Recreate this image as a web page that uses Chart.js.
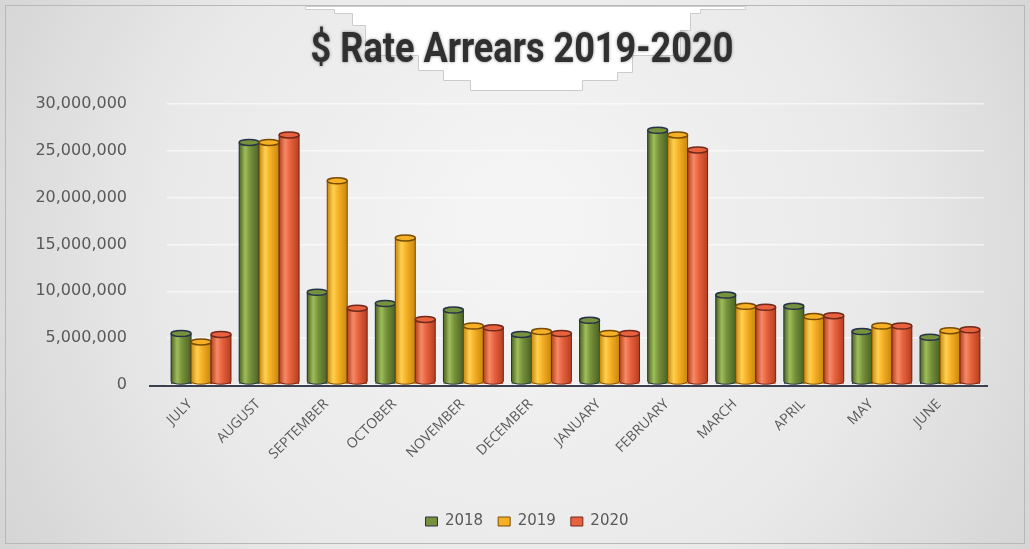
<!DOCTYPE html>
<html>
<head>
<meta charset="utf-8">
<title>$ Rate Arrears 2019-2020</title>
<script src="https://cdn.jsdelivr.net/npm/chart.js@4.4.1/dist/chart.umd.min.js"></script>
<style>
  html, body { margin: 0; padding: 0; background: #ffffff; }
  #wrap { width: 1030px; height: 549px; }
</style>
</head>
<body>
<div id="wrap"><canvas id="arrears"></canvas></div>
<script>
// Monthly rate arrears ($), financial year July..June
const months = ['JULY', 'AUGUST', 'SEPTEMBER', 'OCTOBER', 'NOVEMBER', 'DECEMBER',
    'JANUARY', 'FEBRUARY', 'MARCH', 'APRIL', 'MAY', 'JUNE'];
const years = ['2018', '2019', '2020'];

const arrears2018 = [5500000, 25900000, 9900000, 8700000, 8000000, 5400000,
    6900000, 27200000, 9600000, 8400000, 5700000, 5100000];
const arrears2019 = [4600000, 25900000, 21800000, 15700000, 6300000, 5700000,
    5500000, 26700000, 8400000, 7300000, 6300000, 5800000];
const arrears2020 = [5400000, 26700000, 8200000, 7000000, 6100000, 5500000,
    5500000, 25100000, 8300000, 7400000, 6300000, 5900000];

const yTicks = [0, 5000000, 10000000, 15000000, 20000000, 25000000, 30000000];

// colours per series: base, highlight, shadow, outline
const palette = [
    { base: '#76923c', light: '#a0bd5a', dark: '#4c6222', line: '#26334a' },
    { base: '#f6b026', light: '#ffd050', dark: '#c8870c', line: '#7a4c06' },
    { base: '#e8623f', light: '#f58a66', dark: '#b53f1f', line: '#72281a' }
];

const CHART_LEFT = 167;
const LEGEND_SHIFT = 35;

// background, frame and title
const backdrop = {
    id: 'backdrop',
    afterLayout(chart) {
        // legend sits a little right of the canvas centre
        if (chart.legend) {
            chart.legend.left += LEGEND_SHIFT;
            chart.legend.right += LEGEND_SHIFT;
        }
    },
    beforeDraw(chart) {
        const { ctx, width, height } = chart;
        ctx.save();
        const bg = ctx.createRadialGradient(520, 220, 40, 520, 260, 620);
        bg.addColorStop(0, '#f4f4f4');
        bg.addColorStop(0.55, '#e9e9e9');
        bg.addColorStop(1, '#d2d2d2');
        ctx.fillStyle = bg;
        ctx.fillRect(0, 0, width, height);

        ctx.strokeStyle = '#b8b8b8';
        ctx.lineWidth = 1;
        ctx.strokeRect(5.5, 5.5, width - 11, height - 11);

        // white box under the title
        const pts = [[305, 6], [745, 6], [745, 9], [700, 9], [700, 13], [690, 13], [690, 30],
            [680, 30], [680, 55], [632, 55], [632, 72], [617, 72], [617, 80], [582, 80],
            [582, 90], [470, 90], [470, 80], [443, 80], [443, 70], [418, 70], [418, 55],
            [365, 55], [365, 25], [352, 25], [352, 13], [334, 13], [334, 9], [305, 9]];
        ctx.beginPath();
        pts.forEach((p, i) => i ? ctx.lineTo(p[0] + 0.5, p[1] + 0.5) : ctx.moveTo(p[0] + 0.5, p[1] + 0.5));
        ctx.closePath();
        ctx.fillStyle = '#ffffff';
        ctx.fill();
        ctx.strokeStyle = '#cccccc';
        ctx.stroke();

        // condensed bold title
        ctx.translate(522, 62);
        ctx.scale(0.86, 1);
        ctx.font = 'bold 42px "Roboto", sans-serif';
        ctx.textAlign = 'center';
        ctx.textBaseline = 'alphabetic';
        ctx.shadowColor = 'rgba(0,0,0,0.45)';
        ctx.shadowBlur = 3;
        ctx.fillStyle = '#303030';
        ctx.fillText('$ Rate Arrears 2019-2020', 0, 0);
        ctx.restore();
    },
    beforeDatasetsDraw(chart) {
        // floor line under the bars
        const { ctx, chartArea } = chart;
        const y = chart.scales.y.getPixelForValue(0);
        ctx.save();
        ctx.strokeStyle = '#3a4050';
        ctx.lineWidth = 2;
        ctx.beginPath();
        ctx.moveTo(chartArea.left - 18, y + 1);
        ctx.lineTo(chartArea.right + 4, y + 1);
        ctx.stroke();
        ctx.restore();
    }
};

// redraw each bar as a shaded cylinder on top of the library's geometry
const cylinders = {
    id: 'cylinders',
    afterDatasetsDraw(chart) {
        const { ctx } = chart;
        chart.data.datasets.forEach((ds, di) => {
            const meta = chart.getDatasetMeta(di);
            const c = palette[di];
            meta.data.forEach(bar => {
                const { x, y, base, width } = bar.getProps(['x', 'y', 'base', 'width'], true);
                const l = x - width / 2, r = x + width / 2;
                const ry = 3;
                const g = ctx.createLinearGradient(l, 0, r, 0);
                g.addColorStop(0, c.dark);
                g.addColorStop(0.3, c.light);
                g.addColorStop(0.55, c.base);
                g.addColorStop(1, c.dark);
                ctx.save();
                ctx.beginPath();
                ctx.moveTo(l, y);
                ctx.lineTo(l, base - ry);
                ctx.ellipse(x, base - ry, width / 2, ry, 0, Math.PI, 0, true);
                ctx.lineTo(r, y);
                ctx.closePath();
                ctx.fillStyle = g;
                ctx.fill();
                ctx.strokeStyle = c.line;
                ctx.lineWidth = 1;
                ctx.stroke();
                // top face
                ctx.beginPath();
                ctx.ellipse(x, y, width / 2, ry, 0, 0, Math.PI * 2);
                ctx.fillStyle = c.base;
                ctx.fill();
                ctx.strokeStyle = c.line;
                ctx.lineWidth = 1.5;
                ctx.stroke();
                ctx.restore();
            });
        });
    }
};

const series = [arrears2018, arrears2019, arrears2020];

new Chart(document.getElementById('arrears'), {
    type: 'bar',
    data: {
        labels: months,
        datasets: years.map((yr, i) => ({
            label: yr,
            data: series[i],
            backgroundColor: palette[i].base,
            borderColor: palette[i].line,
            borderWidth: 1,
            categoryPercentage: 0.88,
            barPercentage: 1.0
        }))
    },
    options: {
        responsive: true,
        maintainAspectRatio: false,
        animation: false,
        layout: {
            padding: { top: 104, right: 46, bottom: 10, left: 0 }
        },
        plugins: {
            title: { display: false },
            tooltip: { enabled: false },
            legend: {
                position: 'bottom',
                labels: {
                    boxWidth: 12,
                    boxHeight: 9,
                    padding: 15,
                    color: '#595959',
                    font: { family: '"DejaVu Sans", sans-serif', size: 15 }
                }
            }
        },
        scales: {
            x: {
                grid: { display: false, drawTicks: false },
                border: { display: false },
                ticks: {
                    minRotation: 45,
                    maxRotation: 45,
                    labelOffset: -11,
                    padding: 11,
                    color: '#595959',
                    font: { family: '"Open Sans", sans-serif', size: 14 }
                },
                afterFit(scale) { scale.height = 114; }
            },
            y: {
                min: 0,
                max: 30000000,
                afterBuildTicks(scale) { scale.ticks = yTicks.map(v => ({ value: v })); },
                grid: { color: 'rgba(255,255,255,0.6)', lineWidth: 1.5, drawTicks: false },
                border: { display: false },
                ticks: {
                    padding: 40,
                    color: '#595959',
                    font: { family: '"DejaVu Sans", sans-serif', size: 16 },
                    callback: v => v.toLocaleString('en-US')
                },
                afterFit(scale) { scale.width = CHART_LEFT; }
            }
        }
    },
    plugins: [backdrop, cylinders]
});
</script>
</body>
</html>
